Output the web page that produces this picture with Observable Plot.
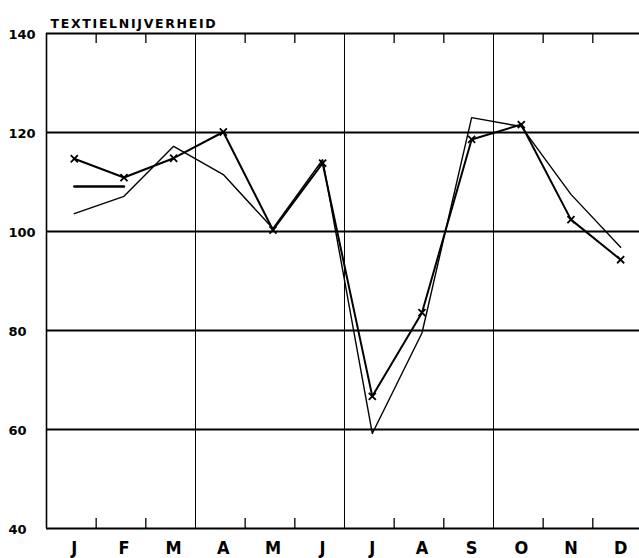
<!DOCTYPE html>
<html>
<head>
<meta charset="utf-8">
<script src="https://cdn.jsdelivr.net/npm/d3@7"></script>
<script src="https://cdn.jsdelivr.net/npm/@observablehq/plot@0.6"></script>
<style>
  html, body { margin: 0; padding: 0; background: #fff; }
  #chart svg { display: block; overflow: visible; }
</style>
</head>
<body>
<div id="chart"></div>
<script>
const title = "TEXTIELNIJVERHEID";
const months = ["J","F","M","A","M","J","J","A","S","O","N","D"];
const seriesCross = [114.7, 110.9, 114.8, 120.1, 100.3, 113.8, 66.7, 83.6, 118.6, 121.6, 102.4, 94.3];
const seriesPlain = [103.6, 107.1, 117.2, 111.5, 100.6, 114.5, 59.2, 79.5, 123.0, 121.2, 107.5, 96.8];
const averageLine = [109.1, 109.1];
const yTicks = [40, 60, 80, 100, 120, 140];
const quarterBounds = [3, 6, 9];
const monthBounds = [1, 2, 4, 5, 7, 8, 10, 11];

const pos = i => i + 0.56;
const cross = seriesCross.map((v, i) => ({x: pos(i), y: v}));
const plain = seriesPlain.map((v, i) => ({x: pos(i), y: v}));
const avg = averageLine.map((v, i) => ({x: pos(i), y: v}));
const labels = months.map((m, i) => ({x: pos(i), m}));

const fontAxis = "'DejaVu Sans', sans-serif";

const chart = Plot.plot({
  width: 639,
  height: 558,
  marginLeft: 46,
  marginTop: 33,
  marginBottom: 30,
  marginRight: 0,
  x: {domain: [0, 11.94], axis: null},
  y: {domain: [40, 140], axis: null},
  style: {background: "#fff"},
  marks: [
    Plot.ruleY(yTicks, {stroke: "#000", strokeWidth: 1.8}),
    Plot.ruleX(quarterBounds, {stroke: "#000", strokeWidth: 1}),
    Plot.ruleX([0], {stroke: "#000", strokeWidth: 1.6}),
    Plot.ruleX(monthBounds, {y1: 140, y2: 138, stroke: "#000", strokeWidth: 1.3}),
    Plot.ruleX(monthBounds, {y1: 40, y2: 42, stroke: "#000", strokeWidth: 1.3}),
    Plot.line(plain, {x: "x", y: "y", stroke: "#000", strokeWidth: 1.4}),
    Plot.line(cross, {x: "x", y: "y", stroke: "#000", strokeWidth: 2}),
    Plot.line(avg, {x: "x", y: "y", stroke: "#000", strokeWidth: 2.4}),
    Plot.dot(cross, {x: "x", y: "y", symbol: "times", r: 3.3, stroke: "#000", strokeWidth: 1.8}),
    Plot.text(yTicks, {y: d => d, text: d => String(d), frameAnchor: "left", textAnchor: "start", dx: -38, dy: 1,
      fontSize: 13, fontWeight: "bold", fontFamily: fontAxis, fill: "#000"}),
    Plot.text(labels, {x: "x", y: () => 40, text: "m", dy: 20, fontSize: 18, fontWeight: "bold",
      fontFamily: "'DejaVu Sans Condensed', 'DejaVu Sans', sans-serif", fill: "#000"}),
    Plot.text([title], {frameAnchor: "top-left", text: d => d, dx: 4, dy: -14, textAnchor: "start",
      fontSize: 12.5, fontWeight: "bold", fontFamily: fontAxis, fill: "#000"})
  ]
});
d3.select(chart).selectAll("text")
  .filter(function() { return this.textContent === title; })
  .attr("letter-spacing", "1.7px");
document.getElementById("chart").append(chart);
</script>
</body>
</html>
